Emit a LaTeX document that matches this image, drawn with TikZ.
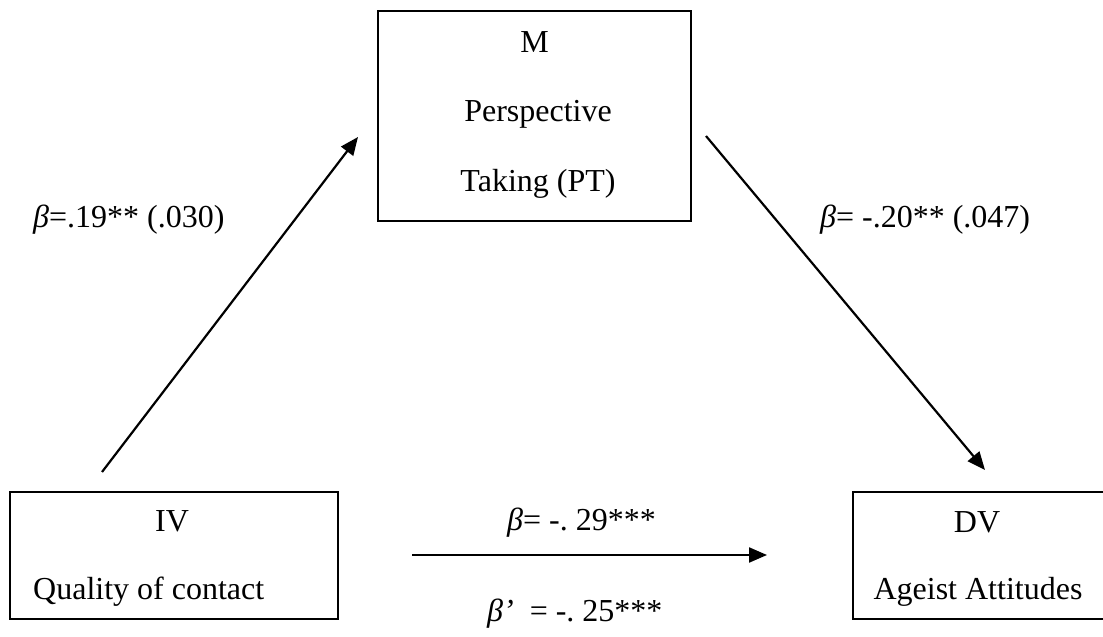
\documentclass[tikz,border=0pt]{standalone}
\usepackage{fontspec}
\setmainfont{Liberation Serif}
\usetikzlibrary{arrows.meta}
\begin{document}
\begin{tikzpicture}[x=1pt,y=1pt,
  box/.style={draw, line width=1.5pt, inner sep=0pt},
  txt/.style={font=\fontsize{32}{38}\selectfont, inner sep=0pt},
  conn/.style={line width=2.2pt, -{Triangle[length=18pt,width=15pt]}}]
\useasboundingbox (0,0) rectangle (1103,637);
% boxes
\node[box, minimum width=313pt, minimum height=210pt] (M) at (534.5,521) {};
\node[box, minimum width=328pt, minimum height=127pt] (IV) at (174,81.5) {};
\node[box, minimum width=262pt, minimum height=127pt] (DV) at (984,81.5) {};
% box texts
\node[txt, anchor=base] (Mt1) at (534.5,584) {M};
\node[txt, anchor=base] (Mt2) at (538,515) {Perspective};
\node[txt, anchor=base] (Mt3) at (538,445) {Taking (PT)};
\node[txt, anchor=base] (IVt1) at (172,105) {IV};
\node[txt, anchor=base west] (IVt2) at (33,37) {Quality of contact};
\node[txt, anchor=base] (DVt1) at (977,104) {DV};
\node[txt, anchor=base] (DVt2) at (978,37) {Ageist Attitudes};
% connectors
\coordinate (a1) at (102,165);
\coordinate (a2) at (358,500);
\coordinate (b1) at (706,501);
\coordinate (b2) at (985,167);
\coordinate (c1) at (412,82);
\coordinate (c2) at (767,82);
\draw[conn] (a1) -- (a2);
\draw[conn] (b1) -- (b2);
\draw[conn] (c1) -- (c2);
% labels
\node[txt, anchor=base west] (la) at (33,409) {\textit{β}=.19** (.030)};
\node[txt, anchor=base west] (lb) at (820,409) {\textit{β}= -.20** (.047)};
\node[txt, anchor=base west] (lc) at (507,106) {\textit{β}= -.\ 29***};
\node[txt, anchor=base west] (ld) at (487,15) {\textit{β’}\ \ = -.\ 25***};
\end{tikzpicture}
\end{document}
